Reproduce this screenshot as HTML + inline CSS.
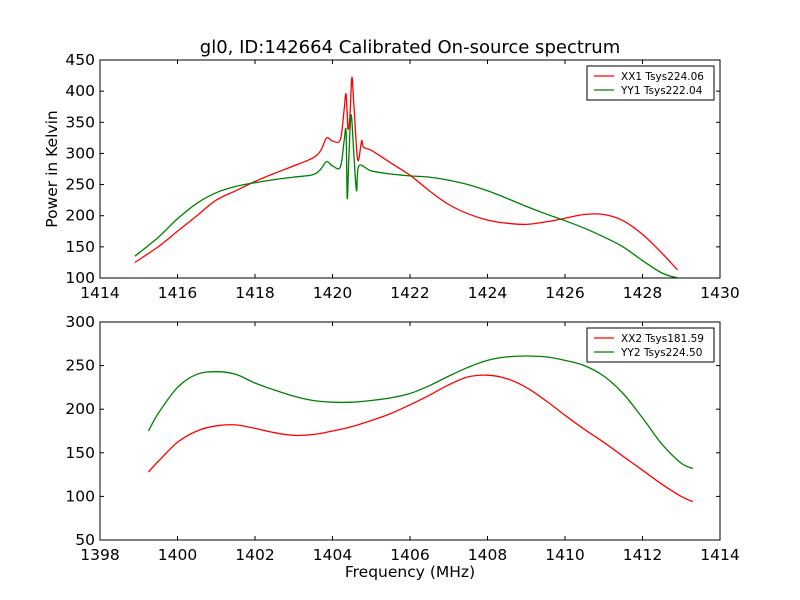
<!DOCTYPE html>
<html><head><meta charset="utf-8"><style>
body{margin:0;background:#fff;}
svg{display:block;font-family:"DejaVu Sans","Liberation Sans",sans-serif;}
</style></head><body>
<svg id="c" width="800" height="600"></svg>
<script>
const xx1F=[1414.9,1415.5,1416,1416.5,1417,1417.5,1418,1418.5,1419,1419.5,1419.7,1419.85,1420,1420.2,1420.3,1420.35,1420.4,1420.45,1420.5,1420.55,1420.65,1420.75,1420.8,1421,1421.5,1422,1422.5,1423,1423.5,1424,1424.5,1425,1425.5,1426,1426.5,1427,1427.5,1428,1428.5,1428.9];
const xx1V=[125,150,175,200,225,240,255,268,280,293,305,325,320,322,370,395,340,360,422,380,290,320,310,305,285,265,240,218,203,193,188,186,190,196,202,202,192,170,140,113];
const yy1F=[1414.9,1415.5,1416,1416.5,1417,1417.5,1418,1418.5,1419,1419.5,1419.7,1419.85,1420,1420.2,1420.3,1420.35,1420.38,1420.42,1420.48,1420.55,1420.62,1420.68,1421,1421.5,1422,1422.5,1423,1423.5,1424,1424.5,1425,1425.5,1426,1426.5,1427,1427.5,1428,1428.5,1428.9];
const yy1V=[135,165,195,220,237,247,253,258,262,266,275,287,280,278,320,335,228,290,362,300,240,280,272,267,264,262,257,250,240,228,215,203,192,180,166,150,128,108,100];
const xx2F=[1399.25,1399.5,1400,1400.5,1401,1401.5,1402,1402.5,1403,1403.5,1404,1404.5,1405,1405.5,1406,1406.5,1407,1407.5,1408,1408.5,1409,1409.5,1410,1410.5,1411,1411.5,1412,1412.5,1413,1413.3];
const xx2V=[128,140,162,175,181,182,178,173,170,171,175,180,187,195,205,216,228,237,239,235,225,210,193,177,162,146,130,114,100,94];
const yy2F=xx2F;
const yy2V=[175,195,225,240,243,240,230,222,215,210,208,208,210,213,218,227,238,248,256,260,261,260,256,250,238,218,190,160,138,132];
const topXTicks=[1414,1416,1418,1420,1422,1424,1426,1428,1430];
const topYTicks=[100,150,200,250,300,350,400,450];
const botXTicks=[1398,1400,1402,1404,1406,1408,1410,1412,1414];
const botYTicks=[50,100,150,200,250,300];
const NS="http://www.w3.org/2000/svg";
const svg=document.getElementById('c');
function mk(t,a,p){const e=document.createElementNS(NS,t);for(const k in a)e.setAttribute(k,a[k]);(p||svg).appendChild(e);return e;}
function smooth(P){
  let d='M'+P[0][0].toFixed(1)+' '+P[0][1].toFixed(1);
  for(let i=0;i<P.length-1;i++){
    const p0=P[Math.max(0,i-1)],p1=P[i],p2=P[i+1],p3=P[Math.min(P.length-1,i+2)];
    const c1x=p1[0]+(p2[0]-p0[0])/6,c1y=p1[1]+(p2[1]-p0[1])/6;
    const c2x=p2[0]-(p3[0]-p1[0])/6,c2y=p2[1]-(p3[1]-p1[1])/6;
    d+='C'+c1x.toFixed(1)+' '+c1y.toFixed(1)+' '+c2x.toFixed(1)+' '+c2y.toFixed(1)+' '+p2[0].toFixed(1)+' '+p2[1].toFixed(1);
  }
  return d;
}
function panel(name,x0,x1,y0,y1,L,R,T,B,xt,yt,series,legend){
  const g=mk('g',{});
  
  
  const sx=v=>L+(v-x0)/(x1-x0)*(R-L), sy=v=>B-(v-y0)/(y1-y0)*(B-T);
  series.forEach(s=>{
    const P=s.f.map((f,i)=>[sx(f),sy(s.v[i])]);
    const p=mk('path',{d:smooth(P),fill:'none',stroke:s.c,'stroke-width':1.3},g);
    
    
  });
  const fr=mk('rect',{x:L,y:T,width:R-L,height:B-T,fill:'none',stroke:'#000','stroke-width':1},g);
  
  
  xt.forEach(v=>{const x=sx(v);mk('line',{x1:x,x2:x,y1:B,y2:B-4,stroke:'#000'},g);mk('line',{x1:x,x2:x,y1:T,y2:T+4,stroke:'#000'},g);
    const t=mk('text',{x:x,y:B+20,'text-anchor':'middle','font-size':15.5},g);t.textContent=v;
    });
  yt.forEach(v=>{const y=sy(v);mk('line',{x1:L,x2:L+4,y1:y,y2:y,stroke:'#000'},g);mk('line',{x1:R,x2:R-4,y1:y,y2:y,stroke:'#000'},g);
    const t=mk('text',{x:L-5,y:y+5,'text-anchor':'end','font-size':15.5},g);t.textContent=v;
    });
  const lg=mk('g',{},g);
  
  
  mk('rect',{x:R-133,y:T+6,width:127,height:34,fill:'#fff',stroke:'#000'},lg);
  legend.forEach((l,i)=>{const y=T+16+i*14;mk('line',{x1:R-126,x2:R-106,y1:y,y2:y,stroke:l.c,'stroke-width':1.3},lg);
    const t=mk('text',{x:R-99,y:y+4,'font-size':10.5},lg);t.textContent=l.t;
    });
}
panel('top-panel',1414,1430,100,450,100,720,60,278,topXTicks,topYTicks,
 [{f:xx1F,v:xx1V,c:'#ff0000',n:'xx1-line'},{f:yy1F,v:yy1V,c:'#008000',n:'yy1-line'}],
 [{c:'#ff0000',t:'XX1 Tsys224.06'},{c:'#008000',t:'YY1 Tsys222.04'}]);
panel('bottom-panel',1398,1414,50,300,100,720,322,540,botXTicks,botYTicks,
 [{f:xx2F,v:xx2V,c:'#ff0000',n:'xx2-line'},{f:yy2F,v:yy2V,c:'#008000',n:'yy2-line'}],
 [{c:'#ff0000',t:'XX2 Tsys181.59'},{c:'#008000',t:'YY2 Tsys224.50'}]);
let t=mk('text',{x:410,y:53,'text-anchor':'middle','font-size':18});t.textContent='gl0, ID:142664 Calibrated On-source spectrum';

t=mk('text',{x:410,y:577,'text-anchor':'middle','font-size':15.5});t.textContent='Frequency (MHz)';

t=mk('text',{x:57,y:169,'text-anchor':'middle','font-size':15.5,transform:'rotate(-90 57 169)'});t.textContent='Power in Kelvin';

</script>
</body></html>
